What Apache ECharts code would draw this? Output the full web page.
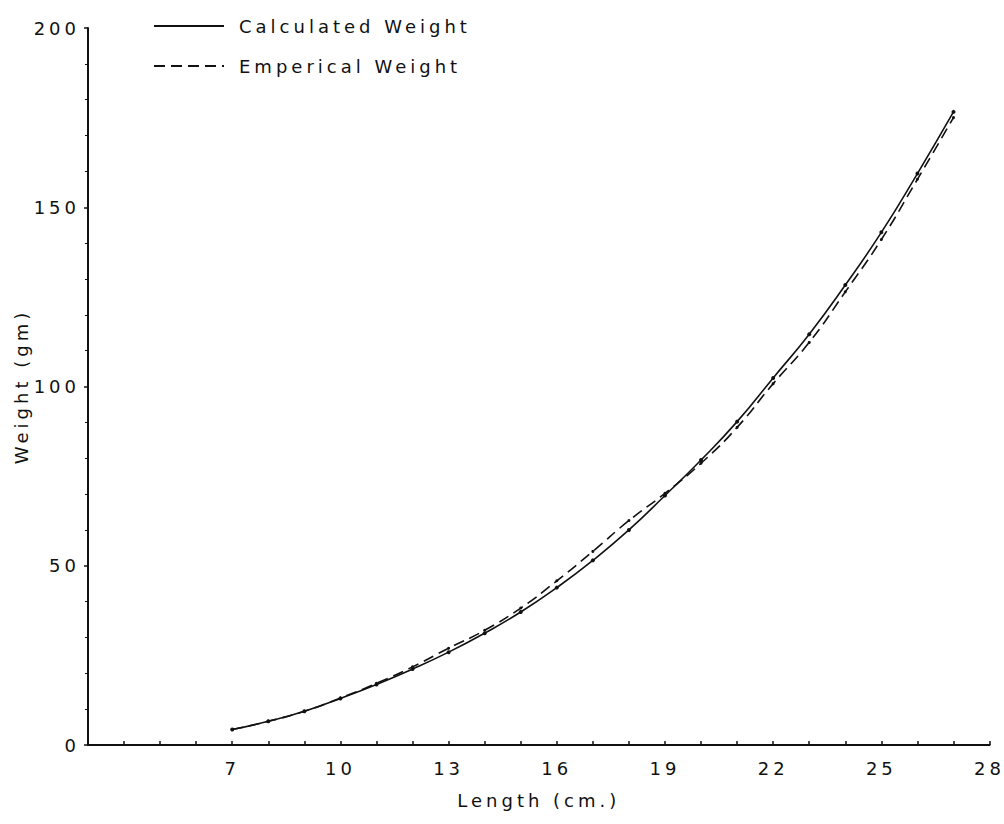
<!DOCTYPE html>
<html>
<head>
<meta charset="utf-8">
<script src="https://cdn.jsdelivr.net/npm/echarts@6/dist/echarts.min.js"></script>
<style>
  html, body { margin: 0; padding: 0; background: #fff; }
  #weight_figure { width: 1004px; height: 824px; letter-spacing: 4px; }
</style>
</head>
<body>
<div id="weight_figure"></div>
<script>
// length (cm) of each fish class
var lengths = [7, 8, 9, 10, 11, 12, 13, 14, 15, 16, 17, 18, 19, 20, 21, 22, 23, 24, 25, 26, 27];
// weight (gm)
var calculated = [4.3, 6.6, 9.4, 13.0, 16.9, 21.2, 25.9, 31.2, 37.1, 43.9, 51.5, 60.0, 69.6, 79.5, 90.2, 102.4, 114.6, 128.3, 143.0, 159.4, 176.6];
var emperical = [4.3, 6.6, 9.4, 13.1, 17.2, 21.8, 27.0, 32.0, 38.2, 45.8, 54.0, 62.6, 70.2, 78.6, 88.6, 100.8, 112.3, 126.4, 141.0, 157.8, 175.0];
// axis ticks
var xTickLabels = [7, 10, 13, 16, 19, 22, 25, 28];
var xMinorTicks = [4, 5, 6, 7, 8, 9, 10, 11, 12, 13, 14, 15, 16, 17, 18, 19, 20, 21, 22, 23, 24, 25, 26, 27, 28];

function pairs(xs, ys) {
    return xs.map(function (x, i) { return [x, ys[i]]; });
}

var weight_figure = echarts.init(document.getElementById('weight_figure'), null, { renderer: 'svg' });

var ink = '#111';
var font = 'DejaVu Sans';

var option = {
    backgroundColor: '#fff',
    animation: false,
    textStyle: { fontFamily: font, color: ink },
    grid: { left: 88, right: 14, top: 28, bottom: 79 },
    legend: {
        orient: 'vertical',
        left: 148,
        top: 12,
        itemWidth: 70,
        itemHeight: 14,
        itemGap: 22,
        itemStyle: { color: 'transparent', borderWidth: 0 },
        textStyle: { fontFamily: font, fontSize: 18, color: ink, padding: [0, 0, 0, 10] },
        data: ['Calculated Weight', 'Emperical Weight']
    },
    xAxis: {
        type: 'value',
        min: 3,
        max: 28,
        name: 'Length (cm.)',
        nameLocation: 'middle',
        nameGap: 46,
        nameTextStyle: { fontFamily: font, fontSize: 18, color: ink },
        splitLine: { show: false },
        axisLine: { lineStyle: { color: ink, width: 2 } },
        axisTick: { inside: true, length: 4, customValues: xMinorTicks, lineStyle: { color: ink, width: 1.5 } },
        axisLabel: { customValues: xTickLabels, fontSize: 18, color: ink, margin: 14 }
    },
    yAxis: {
        type: 'value',
        min: 0,
        max: 200,
        interval: 50,
        name: 'Weight (gm)',
        nameLocation: 'middle',
        nameGap: 58,
        nameTextStyle: { fontFamily: font, fontSize: 18, color: ink },
        splitLine: { show: false },
        axisLine: { show: true, lineStyle: { color: ink, width: 2 } },
        axisTick: { show: true, length: 4, lineStyle: { color: ink, width: 1.5 } },
        minorTick: { show: true, splitNumber: 5, length: 3, lineStyle: { color: ink, width: 1 } },
        axisLabel: { fontSize: 18, color: ink, margin: 8 }
    },
    series: [
        {
            name: 'Calculated Weight',
            type: 'line',
            smooth: true,
            data: pairs(lengths, calculated),
            symbol: 'circle',
            symbolSize: 4,
            itemStyle: { color: ink },
            lineStyle: { color: ink, width: 1.6, type: 'solid' }
        },
        {
            name: 'Emperical Weight',
            type: 'line',
            smooth: true,
            data: pairs(lengths, emperical),
            symbol: 'circle',
            symbolSize: 3,
            itemStyle: { color: ink },
            lineStyle: { color: ink, width: 1.6, type: [11, 6] }
        }
    ]
};

weight_figure.setOption(option);
</script>
</body>
</html>
